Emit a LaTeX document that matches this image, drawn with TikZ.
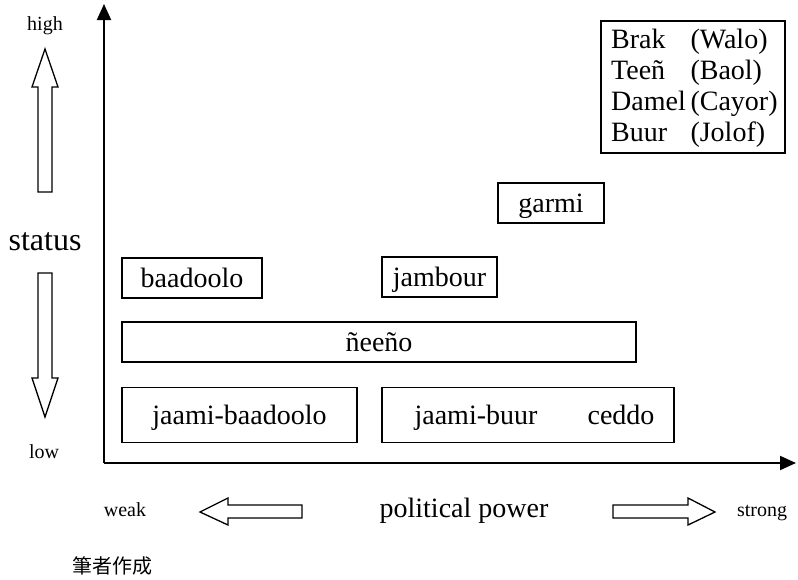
\documentclass[tikz,border=0pt]{standalone}
\usepackage{fontspec}
\setmainfont{Liberation Serif}
\newfontfamily\jpfont{Noto Sans CJK JP}
\usetikzlibrary{arrows.meta}

\begin{document}
\begin{tikzpicture}[x=1pt,y=-1pt,
  box/.style={draw,line width=1.5pt,inner sep=0pt,font=\fontsize{28}{30}\selectfont,text height=22pt,text depth=3pt},
  big/.style={inner sep=0pt,font=\fontsize{28}{30}\selectfont,text height=22pt,text depth=3pt},
  small/.style={inner sep=0pt,font=\fontsize{20}{22}\selectfont,text height=14pt,text depth=4pt},
  axis/.style={line width=2pt,-{Triangle[length=16pt,width=14pt]}},
  hollow/.style={draw,line width=1.3pt,fill=white}]
\useasboundingbox (0,0) rectangle (798,579);

\coordinate (origin) at (104,463);
\coordinate (ytop) at (104,4);
\coordinate (xend) at (796,463);
\path[draw,axis] (origin) -- (ytop);
\path[draw,axis] (origin) -- (xend);

\node[small] (high) at (45,25) {high};
\node[small] (low) at (44,453) {low};
\node[inner sep=0pt,font=\fontsize{32}{34}\selectfont,text height=22pt,text depth=7pt] (status) at (45,243) {status};
\draw[hollow] (45,49) -- (58,87) -- (52,87) -- (52,192) -- (38,192) -- (38,87) -- (32,87) -- cycle;
\draw[hollow] (38,273) -- (52,273) -- (52,378) -- (58,378) -- (45,417) -- (32,378) -- (38,378) -- cycle;

\node[small] (weak) at (125,511) {weak};
\node[big] (power) at (464,508) {political power};
\node[small] (strong) at (762,511) {strong};
\draw[hollow] (200,512) -- (228,498) -- (228,505) -- (302,505) -- (302,518) -- (228,518) -- (228,525) -- cycle;
\draw[hollow] (613,505) -- (688,505) -- (688,498) -- (715,512) -- (688,525) -- (688,518) -- (613,518) -- cycle;

\node[box,minimum width=184,minimum height=132] (legend) at (693,87) {};
\node[inner sep=0pt,font=\fontsize{28}{30}\selectfont,anchor=west] (legtext) at (611,89) {\begin{tabular}{@{}l@{\,}l@{}}
Brak & (Walo)\\[1pt]
Teeñ & (Baol)\\[1pt]
Damel & (Cayor)\\[1pt]
Buur & (Jolof)
\end{tabular}};

\node[box,minimum width=106,minimum height=40] (garmi) at (551,203) {garmi};
\node[box,minimum width=140,minimum height=40] (baadoolo) at (192,278) {baadoolo};
\node[box,minimum width=115,minimum height=40] (jambour) at (439.5,277) {jambour};
\node[box,minimum width=514,minimum height=40] (neeno) at (379,342) {ñeeño};
\node[box,minimum width=235,minimum height=55] (jbaadoolo) at (239.5,415) {jaami-baadoolo};
\node[box,minimum width=292,minimum height=55] (buurbox) at (528,415) {};
\node[big] (jbuur) at (476,415) {jaami-buur};
\node[big] (ceddo) at (621,415) {ceddo};

\node[anchor=west,font=\jpfont\fontsize{20}{22}\selectfont] (source) at (69,566) {筆者作成};
\end{tikzpicture}
\end{document}
